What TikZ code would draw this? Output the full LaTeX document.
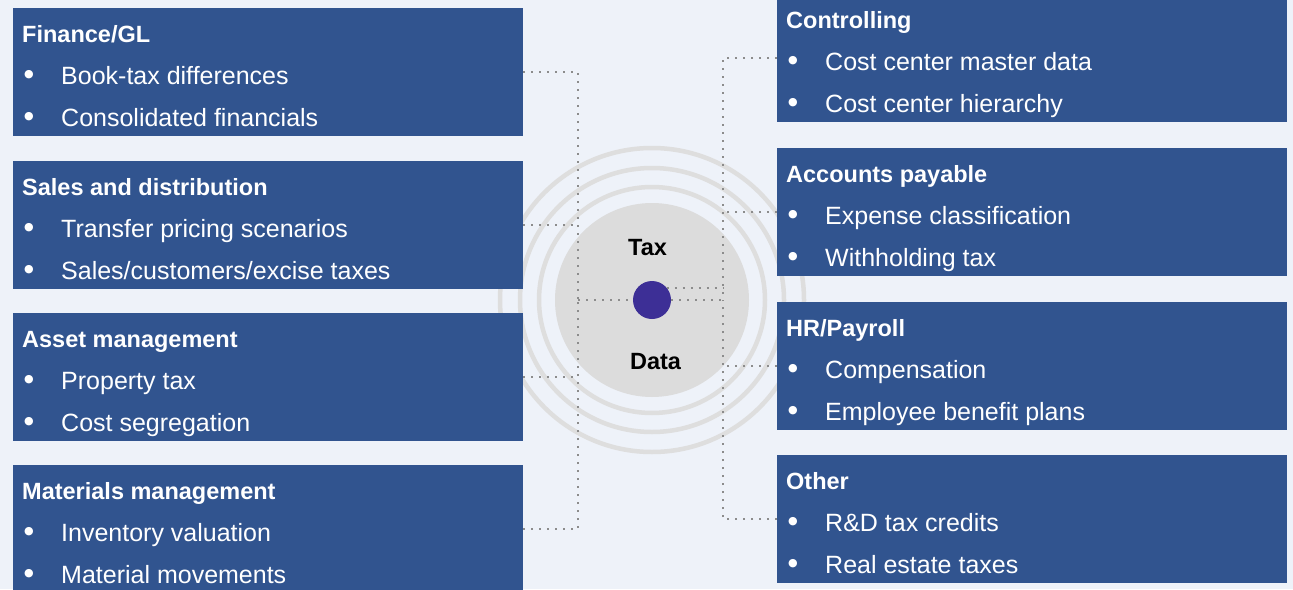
\documentclass[tikz,border=0pt]{standalone}
\usepackage{fontspec}
\setmainfont{Liberation Sans}
\newfontfamily\symfont{DejaVu Sans}
\definecolor{bg}{HTML}{EEF2F9}
\definecolor{boxblue}{HTML}{31548F}
\definecolor{ringc}{HTML}{DEDEDE}
\definecolor{corec}{HTML}{DCDCDC}
\definecolor{dotc}{HTML}{3D2F96}
\definecolor{connc}{HTML}{8C8C8C}
\tikzset{
  panel/.style={fill=boxblue, draw=none, minimum width=510pt, minimum height=128pt, anchor=north west, inner sep=0pt, outer sep=0pt},
  head/.style={anchor=base west, text=white, inner sep=0pt, font=\bfseries\fontsize{23.5}{28}\selectfont},
  item/.style={anchor=base west, text=white, inner sep=0pt, font=\fontsize{25}{28}\selectfont},
  bul/.style={anchor=base, text=white, inner sep=0pt, font=\symfont\fontsize{11}{13}\selectfont},
  conn/.style={draw=connc, line width=1.8pt, dash pattern=on 1.8pt off 6.2pt},
  ringline/.style={draw=ringc, line width=4.5pt},
  centretext/.style={anchor=base, text=black, inner sep=0pt, font=\bfseries\fontsize{23.5}{28}\selectfont}
}
\newcommand{\mypanel}[6]{%
  \node[panel] (#1) at (#2,#3) {};
  \node[head] (#1-h) at ([shift={(9,34)}]#1.north west) {#4};
  \node[bul] (#1-d1) at ([shift={(16,69)}]#1.north west) {●};
  \node[item] (#1-a) at ([shift={(48,76)}]#1.north west) {#5};
  \node[bul] (#1-d2) at ([shift={(16,111.5)}]#1.north west) {●};
  \node[item] (#1-b) at ([shift={(48,118.5)}]#1.north west) {#6};
}
\begin{document}
\begin{tikzpicture}[x=1pt,y=-1pt]
\fill[bg] (0,0) rectangle (1293,589);
\useasboundingbox (0,0) rectangle (1293,589);
% centre rings
\draw[ringline] (652,300) circle[radius=152];
\draw[ringline] (652,300) circle[radius=132];
\draw[ringline] (652,300) circle[radius=113];
\node[circle, fill=corec, minimum size=194pt, inner sep=0pt] (core) at (652,300) {};
\node[centretext] (tax) at (647.5,255) {Tax};
\node[centretext] (data) at (655.5,369) {Data};
% panels
\mypanel{fin}{13}{8}{Finance/GL}{Book-tax differences}{Consolidated financials}
\mypanel{sal}{13}{161}{Sales and distribution}{Transfer pricing scenarios}{Sales/customers/excise taxes}
\mypanel{ast}{13}{313}{Asset management}{Property tax}{Cost segregation}
\mypanel{mat}{13}{465}{Materials management}{Inventory valuation}{Material movements}
\mypanel{ctl}{777}{-6}{Controlling}{Cost center master data}{Cost center hierarchy}
\mypanel{ap}{777}{148}{Accounts payable}{Expense classification}{Withholding tax}
\mypanel{hr}{777}{302}{HR/Payroll}{Compensation}{Employee benefit plans}
\mypanel{oth}{777}{455}{Other}{R\&D tax credits}{Real estate taxes}
% junctions
\coordinate (L) at (578,300);
\coordinate (R) at (723,300);
\node[circle, fill=dotc, minimum size=38pt, inner sep=0pt] (dot) at (652,300) {};
% connectors
\draw[conn] (fin.east) -| (L);
\draw[conn] (mat.east) -| (L);
\draw[conn] (sal.east) -- (sal.east -| L);
\draw[conn] (ast.east) -- (ast.east -| L);
\draw[conn] (L) -- (dot.west);
\draw[conn] (ctl.west) -| (R);
\draw[conn] (oth.west) -| (R);
\draw[conn] (ap.west) -- (ap.west -| R);
\draw[conn] (hr.west) -- (hr.west -| R);
\draw[conn] (dot.east) -- (R);
\draw[conn] (dot.39) -- (dot.39 -| R);
\end{tikzpicture}
\end{document}
